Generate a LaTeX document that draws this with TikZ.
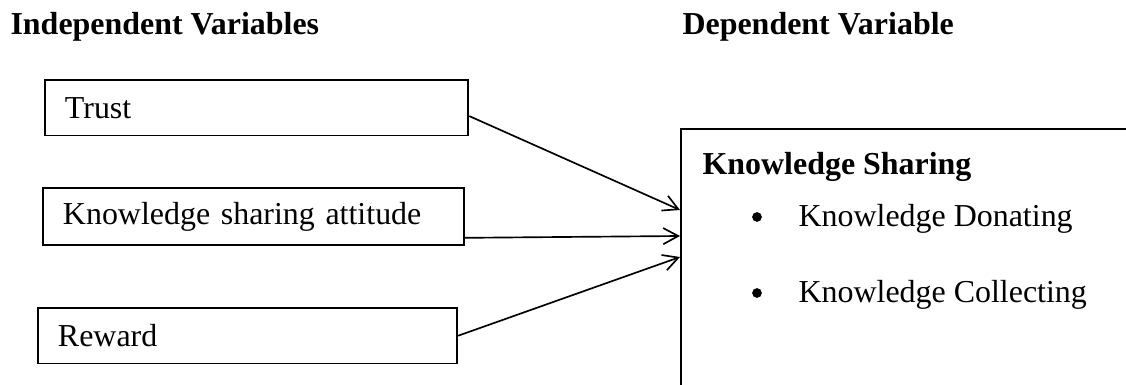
\documentclass[tikz,border=0pt]{standalone}
\usepackage{fontspec}
\setmainfont{Liberation Serif}
\usetikzlibrary{arrows.meta}

\newcommand{\varfont}{\fontsize{11.5}{14}\selectfont}

\tikzset{
    heading/.style={font=\varfont\bfseries, inner sep=0pt, anchor=base west},
    plain/.style={font=\varfont, inner sep=0pt, anchor=base west},
    varbox/.style={
        draw,
        font=\varfont,
        line width=0.7pt,
        inner xsep=7.2pt,
        inner ysep=0pt,
        align=left,
        anchor=north west
    },
    dot/.style={circle, fill, inner sep=0pt, minimum size=3.5pt},
    flow/.style={line width=0.6pt, -{Straight Barb[length=5.4pt, width=5.8pt]}}
}

\begin{document}
\begin{tikzpicture}[x=0.36pt, y=-0.36pt]
\useasboundingbox (0,0) rectangle (1126,385);

% headings
\node[heading] (indep) at (10,35) {Independent Variables};
\node[heading] (dep) at (682,35) {Dependent Variable};

% independent variables
\node[varbox, text width=138pt, minimum height=20pt] (trust) at (44,79) {Trust};
\node[varbox, text width=137pt, minimum height=20.5pt] (attitude) at (42,187) {Knowledge sharing attitude};
\node[varbox, text width=136.5pt, minimum height=20pt] (reward) at (37,307) {Reward};

% dependent variable, runs off the page
\begin{scope}
\clip (0,0) rectangle (1126,385);
\node[
    draw,
    line width=0.7pt,
    minimum width=170pt,
    minimum height=100pt,
    anchor=north west
] (sharing) at (680,128) {};
\end{scope}

\node[heading] (sharetitle) at (702,175) {Knowledge Sharing};
\node[dot] (bulletA) at (757,217) {};
\node[plain] (donating) at (798,227) {Knowledge Donating};
\node[dot] (bulletB) at (757,293) {};
\node[plain] (collecting) at (798,303) {Knowledge Collecting};

% arrow ends on the left side of the box
\coordinate (trustin) at (680,210);
\coordinate (attitudein) at (680,236);
\coordinate (rewardin) at (680,257);

\draw[flow] ([yshift=-3pt]trust.east) -- (trustin);
\draw[flow] ([yshift=-7.7pt]attitude.east) -- (attitudein);
\draw[flow] (reward.east) -- (rewardin);
\end{tikzpicture}
\end{document}
